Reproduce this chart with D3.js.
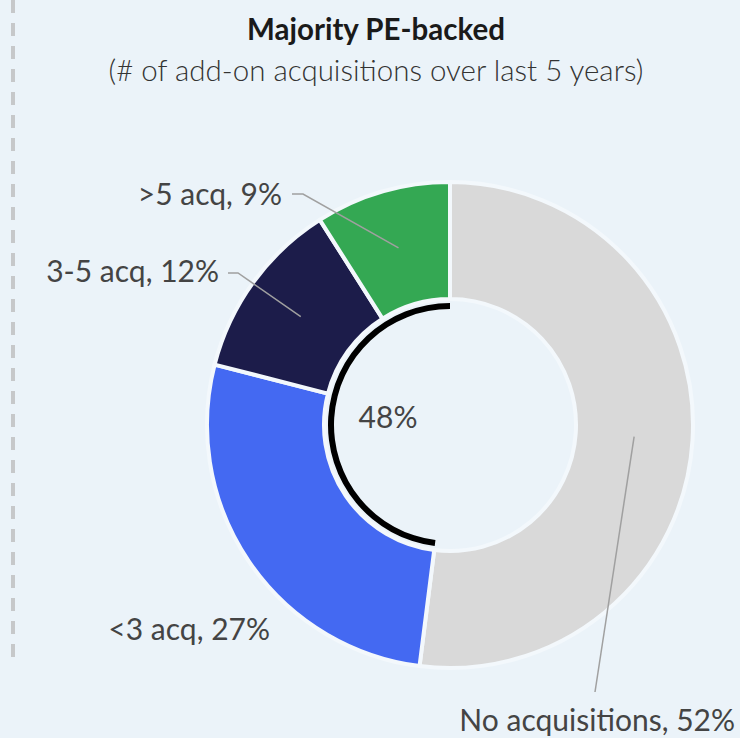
<!DOCTYPE html>
<html>
<head>
<meta charset="utf-8">
<script src="https://cdn.jsdelivr.net/npm/d3@7"></script>
<style>
  html, body { margin: 0; padding: 0; background: #EBF3F9; }
  svg { display: block; }
  text { font-family: Lato, "Open Sans", sans-serif; }
</style>
</head>
<body>
<svg id="chart" width="740" height="738"></svg>
<script>
// ---- data ----
const categories = ["No acquisitions", "<3 acq", "3-5 acq", ">5 acq"];
const values = [52, 27, 12, 9];
const colors = ["#D9D9D9", "#4469F2", "#1C1C4A", "#34A853"];
const title = "Majority PE-backed";
const subtitle = "(# of add-on acquisitions over last 5 years)";
const centerLabel = "48%";

// ---- layout ----
const W = 740, H = 738;
const cx = 450, cy = 425;
const rOuter = 243, rInner = 126;
const svg = d3.select("#chart");

svg.append("rect").attr("width", W).attr("height", H).attr("fill", "#EBF3F9");

// left dashed divider
svg.append("line")
  .attr("x1", 13).attr("x2", 13).attr("y1", 0).attr("y2", 664)
  .attr("stroke", "#C6C8CA").attr("stroke-width", 4)
  .attr("stroke-dasharray", "13,10");

// titles
svg.append("text").attr("x", 376).attr("y", 40)
  .attr("text-anchor", "middle").attr("font-size", 29.5).attr("font-weight", 700)
  .attr("fill", "#1A1A1A").text(title);
svg.append("text").attr("x", 376).attr("y", 81)
  .attr("text-anchor", "middle").attr("font-size", 29.5).attr("font-weight", 300)
  .attr("fill", "#333").text(subtitle);

const data = categories.map((c, i) => ({ cat: c, value: values[i], color: colors[i] }));
const pie = d3.pie().value(d => d.value).sort(null);
const arcs = pie(data);
const arc = d3.arc().innerRadius(rInner).outerRadius(rOuter);
const g = svg.append("g").attr("transform", `translate(${cx},${cy})`);

g.selectAll("path.slice").data(arcs).join("path")
  .attr("class", "slice")
  .attr("d", arc)
  .attr("fill", d => d.data.color)
  .attr("stroke", "#F3F8FC").attr("stroke-width", 4).attr("stroke-linejoin", "miter");

// black arc spanning the non-zero acquisition share
const accStart = arcs[1].startAngle, accEnd = arcs[arcs.length - 1].endAngle;
g.append("path")
  .attr("d", d3.arc().innerRadius(116).outerRadius(122)({ startAngle: accStart, endAngle: accEnd }))
  .attr("fill", "#000");

// center label
g.append("text").attr("x", -62).attr("y", 3).attr("text-anchor", "middle")
  .attr("font-size", 30).attr("fill", "#444").text(centerLabel);

// labels & leaders
const labelPos = [
  { x: 735, y: 731, anchor: "end", leader: [[595 - cx, 692 - cy]] },
  { x: 270, y: 640, anchor: "end", leader: null },
  { x: 219, y: 282, anchor: "end", leader: [[228 - cx, 273 - cy], [238 - cx, 273 - cy]] },
  { x: 282, y: 205, anchor: "end", leader: [[292 - cx, 194 - cy], [303 - cx, 194 - cy]] }
];
arcs.forEach((a, i) => {
  const lp = labelPos[i];
  if (lp.leader) {
    const c = arc.centroid(a);
    const pts = lp.leader.concat([c]);
    g.append("path").attr("d", d3.line()(pts))
      .attr("fill", "none").attr("stroke", "#A0A0A0").attr("stroke-width", 1.5);
  }
  svg.append("text").attr("x", lp.x).attr("y", lp.y).attr("text-anchor", lp.anchor)
    .attr("font-size", 30).attr("fill", "#444")
    .text(`${a.data.cat}, ${a.data.value}%`);
});
</script>
</body>
</html>
